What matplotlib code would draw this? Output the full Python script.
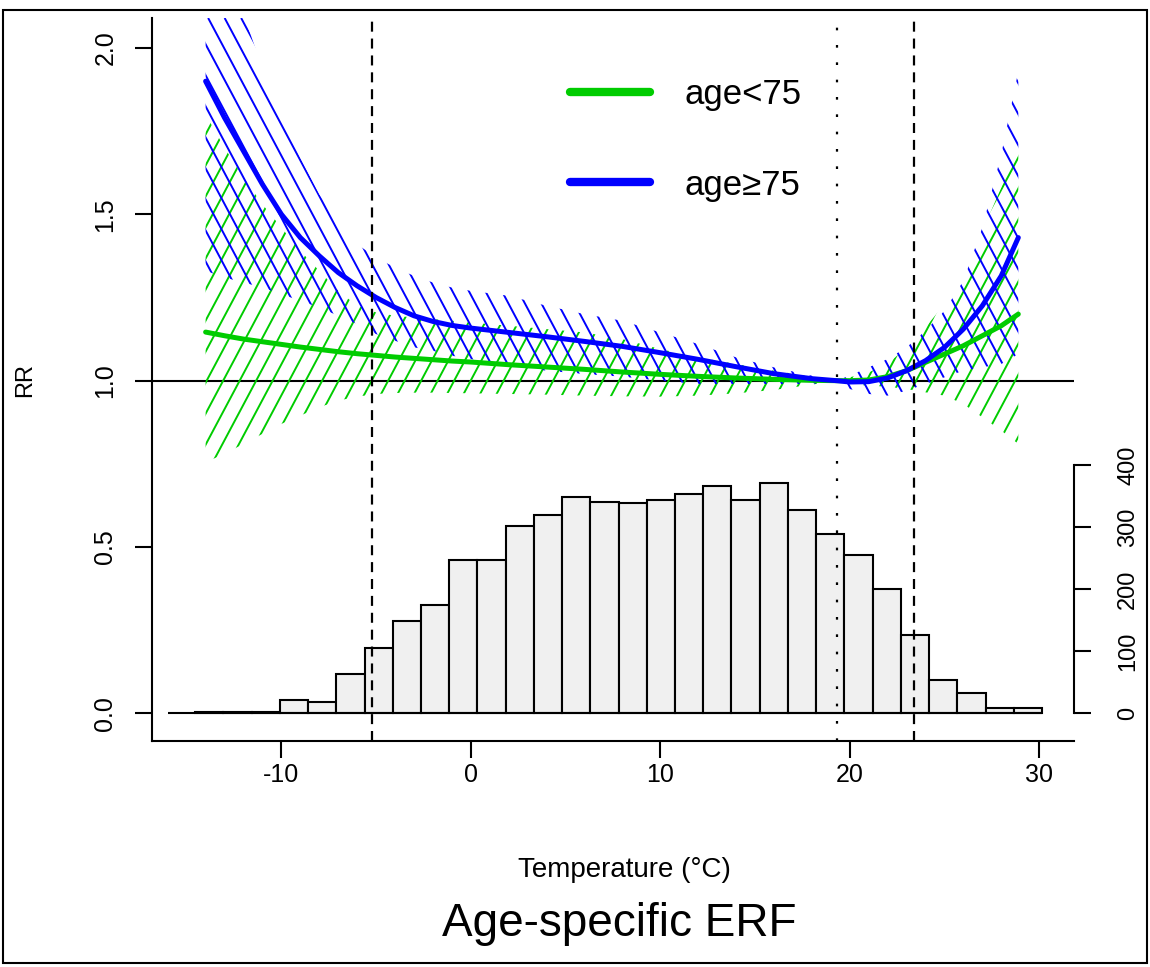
import numpy as np
import matplotlib
matplotlib.use('Agg')
import matplotlib.pyplot as plt
from matplotlib.collections import LineCollection
from matplotlib.patches import PathPatch, Rectangle
from matplotlib.lines import Line2D

plt.rcParams['font.family'] = ['Liberation Sans', 'DejaVu Sans']
plt.rcParams['axes.unicode_minus'] = False

###############################################################################
# exposure-response curves (RR vs temperature)
temp = [-14, -13, -12, -11, -10, -9, -8, -7, -6, -5, -4, -3, -2, -1, 0,
        2, 4, 6, 8, 10, 12, 14, 16, 18, 19.3, 20, 21, 22, 23, 24, 25, 26,
        27, 28, 28.9]

rr_lt75 = [1.146, 1.135, 1.125, 1.117, 1.109, 1.101, 1.094, 1.087, 1.081,
           1.076, 1.071, 1.067, 1.063, 1.059, 1.056, 1.048, 1.041, 1.034,
           1.026, 1.019, 1.013, 1.008, 1.004, 1.001, 1.0, 1.0, 1.002, 1.012,
           1.03, 1.055, 1.08, 1.105, 1.135, 1.165, 1.20]
lo_lt75 = [0.755, 0.78, 0.81, 0.84, 0.87, 0.895, 0.92, 0.94, 0.952, 0.96,
           0.963, 0.964, 0.964, 0.963, 0.962, 0.96, 0.958, 0.955, 0.953,
           0.952, 0.955, 0.962, 0.972, 0.988, 1.0, 0.99, 0.985, 0.982, 0.975,
           0.965, 0.955, 0.93, 0.89, 0.85, 0.81]
hi_lt75 = [1.80, 1.70, 1.61, 1.53, 1.46, 1.39, 1.33, 1.27, 1.225, 1.205,
           1.195, 1.19, 1.185, 1.18, 1.175, 1.165, 1.155, 1.145, 1.125, 1.095,
           1.07, 1.05, 1.03, 1.012, 1.0, 1.01, 1.025, 1.05, 1.10, 1.16, 1.23,
           1.33, 1.45, 1.58, 1.72]

rr_ge75 = [1.90, 1.79, 1.69, 1.59, 1.50, 1.43, 1.375, 1.325, 1.285, 1.25,
           1.22, 1.195, 1.178, 1.166, 1.158, 1.145, 1.132, 1.118, 1.103,
           1.084, 1.064, 1.042, 1.021, 1.006, 1.0, 0.996, 0.997, 1.008, 1.03,
           1.06, 1.10, 1.155, 1.225, 1.315, 1.43]
lo_ge75 = [1.33, 1.31, 1.295, 1.28, 1.26, 1.24, 1.22, 1.195, 1.17, 1.14,
           1.12, 1.10, 1.09, 1.075, 1.065, 1.045, 1.03, 1.02, 1.012, 1.0,
           0.99, 0.99, 0.99, 0.99, 1.0, 0.975, 0.96, 0.955, 0.97, 0.99, 1.01,
           1.03, 1.04, 1.05, 1.08]
hi_ge75 = [2.45, 2.27, 2.10, 1.94, 1.79, 1.67, 1.56, 1.48, 1.41, 1.37,
           1.34, 1.315, 1.295, 1.28, 1.27, 1.255, 1.225, 1.20, 1.18, 1.145,
           1.11, 1.07, 1.04, 1.015, 1.0, 1.015, 1.04, 1.065, 1.10, 1.15, 1.21,
           1.30, 1.46, 1.68, 1.93]

# temperature distribution (histogram counts, 1.49 degC bins)
hist_edges = np.linspace(-14.55, 30.15, 31)
hist_counts = [2, 3, 3, 21, 19, 63, 106, 148, 174, 247, 247, 301, 319, 349,
               340, 339, 344, 353, 366, 344, 371, 327, 289, 255, 200, 127, 54,
               33, 8, 8]

cold_thr = -5.23
mmt = 19.32
heat_thr = 23.42

labels = ['age<75', 'age\u226575']
GREEN = '#00CC00'
BLUE = '#0000FF'
###############################################################################
W_PX, H_PX = 922, 723          # axes size in pixels
HATCH_STEP = 16.5               # horizontal spacing of shading lines (px)
HATCH_ANGLE = 62                # degrees


def hatch_band(ax, x, lo, hi, color, sign):
    ''' shade a band with parallel lines, R polygon(density=) style '''
    band = ax.fill_between(x, lo, hi, facecolor='none', edgecolor='none',
                           linewidth=0)
    clip = PathPatch(band.get_paths()[0], transform=ax.transData,
                     facecolor='none', edgecolor='none')
    ax.add_patch(clip)
    run = H_PX / np.tan(np.radians(HATCH_ANGLE))
    starts = np.arange(-run - HATCH_STEP, W_PX + run + HATCH_STEP, HATCH_STEP)
    segs = [[(s / W_PX, 0), ((s + sign * run) / W_PX, 1)] for s in starts]
    lc = LineCollection(segs, colors=color, linewidths=1.4,
                        transform=ax.transAxes)
    ax.add_collection(lc, autolim=False)
    lc.set_clip_path(clip)


fig = plt.figure(figsize=(11.5, 9.67), dpi=100)
ax = fig.add_axes([152/1150, 1 - 741/967, W_PX/1150, H_PX/967])
ax2 = ax.twinx()
ax.set_zorder(ax2.get_zorder() + 1)
ax.patch.set_visible(False)

ylo, yhi = -0.083, 2.090
ax.set_xlim(-16.83, 31.84)
ax.set_ylim(ylo, yhi)
ax2.set_ylim(ylo * 400 / 0.7465, yhi * 400 / 0.7465)

# histogram on the secondary axis
ax2.bar(hist_edges[:-1], hist_counts, width=np.diff(hist_edges), align='edge',
        facecolor='#F0F0F0', edgecolor='black', linewidth=1.5)
ax.hlines(0, -16.0, 30.15, color='black', linewidth=1.5)

# confidence bands
hatch_band(ax, temp, lo_lt75, hi_lt75, GREEN, 1)
hatch_band(ax, temp, lo_ge75, hi_ge75, BLUE, -1)

ax.axhline(1.0, color='black', linewidth=1.5, zorder=1.5)
ax.plot(temp, rr_lt75, color=GREEN, linewidth=3.6, solid_capstyle='round')
ax.plot(temp, rr_ge75, color=BLUE, linewidth=3.6, solid_capstyle='round')

# thresholds
for xv in (cold_thr, heat_thr):
    ax.axvline(xv, color='black', linewidth=1.6, linestyle=(0, (4.5, 3.1)))
ax.axvline(mmt, color='black', linewidth=1.6, linestyle=(0, (1.2, 6.6)))

# legend
handles = [Line2D([], [], color=GREEN, linewidth=6, solid_capstyle='round'),
           Line2D([], [], color=BLUE, linewidth=6, solid_capstyle='round')]
ax.legend(handles, labels, loc='upper left', frameon=False,
          bbox_to_anchor=(570/1150, 1 - 78/967), bbox_transform=fig.transFigure,
          fontsize=25, handlelength=2.3, handletextpad=1.0, labelspacing=1.66,
          borderpad=0, borderaxespad=0)

# axes styling (R bty="l")
for s in ('top', 'right'):
    ax.spines[s].set_visible(False)
for s in ('left', 'bottom'):
    ax.spines[s].set_linewidth(1.5)
for s in ('top', 'left', 'bottom'):
    ax2.spines[s].set_visible(False)
ax2.spines['right'].set_linewidth(1.5)
ax2.spines['right'].set_bounds(0, 400)

ax.set_xticks([-10, 0, 10, 20, 30])
ax.set_xticklabels(['-10', '0', '10', '20', '30'])
ax.set_yticks([0, 0.5, 1.0, 1.5, 2.0])
ax.set_yticklabels(['0.0', '0.5', '1.0', '1.5', '2.0'], rotation=90,
                   va='center')
ax.tick_params(axis='both', direction='out', length=12, width=1.5,
               labelsize=18)
ax.tick_params(axis='x', pad=4)
ax.tick_params(axis='y', pad=13)

ax2.set_yticks([0, 100, 200, 300, 400])
ax2.set_yticklabels(['0', '100', '200', '300', '400'], rotation=90,
                    va='center')
ax2.tick_params(axis='y', direction='out', length=12, width=1.5,
                labelsize=17, pad=19)

fig.text(25/1150, 1 - 380/967, 'RR', rotation=90, ha='center', va='center',
         fontsize=17)
fig.text(624/1150, 1 - 877/967, 'Temperature (\u00b0C)', ha='center',
         va='baseline', fontsize=20)
fig.text(619/1150, 1 - 936/967, 'Age-specific ERF', ha='center',
         va='baseline', fontsize=33)

# outer frame of the picture
fig.add_artist(Rectangle((3/1150, 4/967), 1144/1150, 953/967,
                         transform=fig.transFigure, fill=False,
                         edgecolor='black', linewidth=1.5))

fig.savefig('out.png', dpi=100)
